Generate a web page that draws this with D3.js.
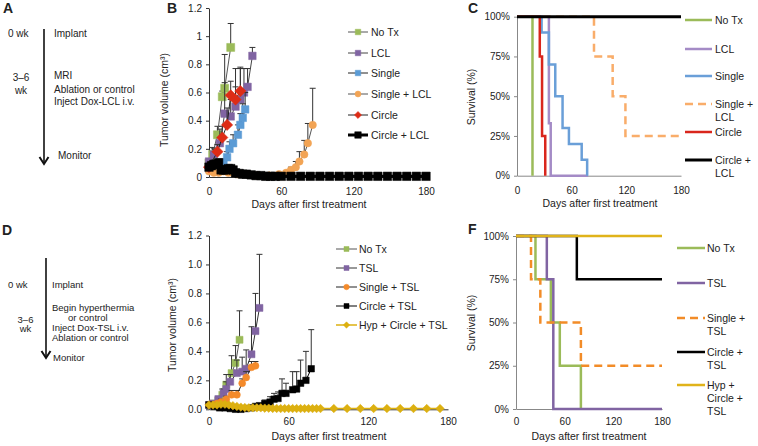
<!DOCTYPE html>
<html><head><meta charset="utf-8">
<script src="https://cdn.jsdelivr.net/npm/d3@7"></script>
<style>
body{margin:0;background:#fff}
text{font-family:'Liberation Sans',Arial,sans-serif;fill:#222}
</style></head><body>
<script>
// ---- data ----
var xTicks = [0, 60, 120, 180];
var volTicks = [0, 0.2, 0.4, 0.6, 0.8, 1.0, 1.2];
var volLabelsB = ["0", "0.2", "0.4", "0.6", "0.8", "1", "1.2"];
var volLabelsE = ["0.0", "0.2", "0.4", "0.6", "0.8", "1.0", "1.2"];
var survTicks = [0, 25, 50, 75, 100];
var survLabels = ["0%", "25%", "50%", "75%", "100%"];

// panel B - tumor volume, LCL
var bNoTxDays = [0, 3, 7, 11, 13, 18];
var bNoTxVol = [0.10, 0.16, 0.30, 0.57, 0.63, 0.92];
var bNoTxErr = [0.02, 0.05, 0.06, 0.04, 0.24, 0.17];
var bLclDays = [0, 4, 9, 13, 18, 22, 26, 29, 32, 36];
var bLclVol = [0.11, 0.16, 0.24, 0.45, 0.43, 0.50, 0.55, 0.60, 0.64, 0.86];
var bLclErr = [0.02, 0.04, 0.10, 0.22, 0.12, 0.14, 0.22, 0.17, 0.13, 0.06];
var bSingleDays = [0, 4, 8, 12, 15, 17, 20, 24, 26, 28, 30];
var bSingleVol = [0.06, 0.07, 0.08, 0.10, 0.14, 0.20, 0.24, 0.30, 0.37, 0.42, 0.48];
var bSingleErr = [0.01, 0.01, 0.02, 0.03, 0.04, 0.05, 0.06, 0.07, 0.08, 0.10, 0.12];
var bSingleLclDays = [0, 4, 8, 12, 16, 20, 24, 30, 40, 50, 58, 64, 68, 72, 75, 79, 82, 86];
var bSingleLclVol = [0.04, 0.03, 0.03, 0.04, 0.03, 0.03, 0.02, 0.02, 0.01, 0.01, 0.02, 0.03, 0.05, 0.07, 0.11, 0.16, 0.24, 0.37];
var bSingleLclErr = [0.01, 0.01, 0.01, 0.01, 0.01, 0.01, 0.01, 0, 0, 0, 0.01, 0.01, 0.02, 0.04, 0.07, 0.10, 0.14, 0.26];
var bCircleDays = [0, 7, 11, 15, 18, 22, 26];
var bCircleVol = [0.07, 0.18, 0.28, 0.37, 0.58, 0.55, 0.61];
var bCircleErr = [0.02, 0.05, 0.08, 0.12, 0.10, 0.22, 0.17];
var bCircleLclDays = [0, 2, 4, 6, 8, 10, 12, 14, 16, 18, 20, 22, 25, 28, 31, 35, 39, 43, 47, 51, 55, 60, 68, 76, 84, 92, 100, 108, 116, 124, 132, 140, 148, 156, 164, 172, 180];
var bCircleLclVol = [0.07, 0.08, 0.09, 0.09, 0.10, 0.05, 0.05, 0.05, 0.06, 0.06, 0.05, 0.03, 0.025, 0.02, 0.02, 0.015, 0.01, 0.01, 0.005, 0.005, 0.005, 0.005, 0.005, 0.005, 0.005, 0.005, 0.005, 0.005, 0.005, 0.005, 0.005, 0.005, 0.005, 0.005, 0.005, 0.005, 0.005];
var bCircleLclErr = [0.02, 0.03, 0.03, 0.03, 0.03, 0.02, 0.02, 0.01, 0.01, 0.01, 0.01, 0.01, 0.01, 0.01, 0, 0, 0, 0, 0, 0, 0, 0, 0, 0, 0, 0, 0, 0, 0, 0, 0, 0, 0, 0, 0, 0, 0];

// panel E - tumor volume, TSL
var eNoTxDays = [0, 3, 7, 10, 13, 17, 20, 23];
var eNoTxVol = [0.03, 0.04, 0.06, 0.10, 0.17, 0.25, 0.32, 0.48];
var eNoTxErr = [0.01, 0.01, 0.02, 0.04, 0.07, 0.12, 0.12, 0.20];
var eTslDays = [0, 3, 7, 11, 13, 16, 21, 25, 28, 32, 35, 38];
var eTslVol = [0.03, 0.04, 0.07, 0.11, 0.14, 0.19, 0.25, 0.26, 0.28, 0.38, 0.54, 0.70];
var eTslErr = [0.01, 0.01, 0.02, 0.03, 0.05, 0.05, 0.09, 0.10, 0.13, 0.19, 0.26, 0.37];
var eSingleDays = [0, 3, 6, 9, 13, 17, 21, 25, 28, 32, 35];
var eSingleVol = [0.03, 0.03, 0.04, 0.05, 0.07, 0.10, 0.10, 0.18, 0.22, 0.29, 0.30];
var eSingleErr = [0.01, 0.01, 0.01, 0.02, 0.02, 0.03, 0.03, 0.03, 0.04, 0.04, 0.03];
var eCircleDays = [0, 4, 8, 12, 16, 20, 24, 28, 32, 35, 38, 42, 46, 49, 52, 55, 58, 63, 66, 69, 73, 77];
var eCircleVol = [0.03, 0.02, 0.01, 0.01, 0.005, 0, 0, 0.005, 0.01, 0.02, 0.025, 0.04, 0.05, 0.07, 0.075, 0.11, 0.11, 0.135, 0.14, 0.18, 0.20, 0.28];
var eCircleErr = [0, 0, 0, 0, 0, 0, 0, 0, 0, 0.01, 0.015, 0.024, 0.037, 0.04, 0.045, 0.10, 0.07, 0.125, 0.12, 0.16, 0.20, 0.27];
var eHypDays = [0, 3, 6, 9, 12, 15, 18, 21, 24, 27, 30, 33, 36, 39, 42, 45, 48, 51, 54, 57, 60, 63, 66, 69, 72, 75, 78, 81, 84, 94, 104, 114, 124, 134, 144, 154, 164, 174];
var eHypVol = [0.03, 0.03, 0.03, 0.035, 0.035, 0.03, 0.025, 0.02, 0.015, 0.012, 0.01, 0.01, 0.01, 0.01, 0.008, 0.008, 0.006, 0.006, 0.005, 0.005, 0.005, 0.005, 0.005, 0.005, 0.005, 0.005, 0.005, 0.005, 0.005, 0.005, 0.005, 0.005, 0.005, 0.005, 0.005, 0.005, 0.005, 0.005];

// panel C - survival (day, %) step points
var cNoTxT = [0, 17], cNoTxS = [100, 0];
var cLclT = [0, 35, 37, 78], cLclS = [100, 33, 0, 0];
var cSingleT = [0, 27, 35, 42, 50, 57, 71, 77], cSingleS = [100, 90, 70, 50, 30, 20, 10, 0];
var cSingleLclT = [0, 84.5, 105, 119, 180], cSingleLclS = [100, 75, 50, 25, 25];
var cCircleT = [0, 25, 27.5, 31], cCircleS = [100, 75, 25, 0];
var cCircleLclT = [0, 180], cCircleLclS = [100, 100];

// panel F - survival
var fNoTxT = [0, 24, 43, 54, 80], fNoTxS = [100, 75, 50, 25, 0];
var fTslT = [0, 38, 46, 180], fTslS = [100, 75, 0, 0];
var fSingleT = [0, 18.5, 30, 80, 180], fSingleS = [100, 75, 50, 25, 25];
var fCircleT = [0, 75, 180], fCircleS = [100, 75, 75];
var fHypT = [0, 180], fHypS = [100, 100];

// ---- drawing ----
var svg = d3.select("body").append("svg")
    .attr("width", 758).attr("height", 446)
    .style("background-color", "white");

function txt(x, y, s, size, anchor, weight) {
    return svg.append("text").attr("x", x).attr("y", y).text(s)
        .style("font-size", (size || 10) + "px")
        .attr("text-anchor", anchor || "start")
        .style("font-weight", weight || "normal");
}

function marker(g, type, cx, cy, size, fill) {
    if (type == "diamond") {
        g.append("path").attr("d", d3.symbol().type(d3.symbolSquare).size(size * size)())
            .attr("transform", "translate(" + cx + "," + cy + ") rotate(45)")
            .attr("fill", fill).attr("stroke", fill).attr("stroke-width", 0.5);
    } else {
        var t = type == "circle" ? d3.symbolCircle : d3.symbolSquare;
        var area = type == "circle" ? Math.PI * size * size / 4 : size * size;
        g.append("path").attr("d", d3.symbol().type(t).size(area)())
            .attr("transform", "translate(" + cx + "," + cy + ")")
            .attr("fill", fill).attr("stroke", fill).attr("stroke-width", 0.5);
    }
}

function styleAxis(ax, domainColor) {
    ax.selectAll("text").style("font-size", "10px").style("fill", "#222")
        .style("font-family", "'Liberation Sans',Arial,sans-serif");
    ax.select(".domain").attr("stroke", domainColor);
    ax.selectAll(".tick line").attr("stroke", domainColor);
}

function growthPanel(xr, yr, labels, pad, series) {
    var x = d3.scaleLinear().domain([0, 180]).range(xr);
    var y = d3.scaleLinear().domain([0, 1.2]).range(yr);
    var ay = svg.append("g").attr("transform", "translate(" + xr[0] + ",0)")
        .call(d3.axisLeft(y).tickValues(volTicks).tickFormat(function(d, i){ return labels[i]; })
            .tickSize(3).tickSizeOuter(0).tickPadding(4));
    styleAxis(ay, "#333");
    var ax = svg.append("g").attr("transform", "translate(0," + yr[0] + ")")
        .call(d3.axisBottom(x).tickValues(xTicks).tickSize(0).tickPadding(pad));
    styleAxis(ax, "#333");

    series.forEach(function(s) {
        var g = svg.append("g");
        var idx = d3.range(s.days.length);
        idx.forEach(function(i) {
            if (s.err && s.err[i] > 0) {
                var xx = x(s.days[i]), y0 = y(s.vol[i]), y1 = y(s.vol[i] + s.err[i]);
                g.append("line").attr("x1", xx).attr("x2", xx).attr("y1", y0).attr("y2", y1)
                    .attr("stroke", "#333").attr("stroke-width", 1);
                g.append("line").attr("x1", xx - 3).attr("x2", xx + 3).attr("y1", y1).attr("y2", y1)
                    .attr("stroke", "#333").attr("stroke-width", 1);
            }
        });
        g.append("path").datum(idx)
            .attr("d", d3.line().x(function(i){ return x(s.days[i]); }).y(function(i){ return y(s.vol[i]); }))
            .attr("fill", "none").attr("stroke", s.line).attr("stroke-width", s.lw);
        idx.forEach(function(i) {
            marker(g, s.shape, x(s.days[i]), y(s.vol[i]), s.size, s.color);
        });
    });
}

function growthLegend(x0, x1, tx, rows, series, names) {
    series.forEach(function(s, k) {
        var g = svg.append("g");
        g.append("line").attr("x1", x0).attr("x2", x1).attr("y1", rows[k]).attr("y2", rows[k])
            .attr("stroke", s.line).attr("stroke-width", s.lw);
        marker(g, s.shape, (x0 + x1) / 2, rows[k], s.legSize, s.color);
        txt(tx, rows[k] + 3.5, names[k], 10.5);
    });
}

function survivalPanel(xr, yr, pad, series) {
    var x = d3.scaleLinear().domain([0, 180]).range(xr);
    var y = d3.scaleLinear().domain([0, 100]).range(yr);
    var ay = svg.append("g").attr("transform", "translate(" + xr[0] + ",0)")
        .call(d3.axisLeft(y).tickValues(survTicks).tickFormat(function(d, i){ return survLabels[i]; })
            .tickSize(3).tickSizeOuter(0).tickPadding(4));
    styleAxis(ay, "#888");
    var ax = svg.append("g").attr("transform", "translate(0," + yr[0] + ")")
        .call(d3.axisBottom(x).tickValues(xTicks).tickSize(0).tickPadding(pad));
    styleAxis(ax, "#888");
    series.forEach(function(s) {
        var idx = d3.range(s.t.length);
        svg.append("path").datum(idx)
            .attr("d", d3.line().curve(d3.curveStepAfter)
                .x(function(i){ return x(s.t[i]); }).y(function(i){ return y(s.s[i]); }))
            .attr("fill", "none").attr("stroke", s.color).attr("stroke-width", s.lw || 2.5)
            .attr("stroke-dasharray", s.dash ? "8,5" : null);
    });
}

function survivalLegend(x0, x1, tx, rows, series, names) {
    series.forEach(function(s, k) {
        svg.append("line").attr("x1", x0).attr("x2", x1).attr("y1", rows[k]).attr("y2", rows[k])
            .attr("stroke", s.color).attr("stroke-width", s.lw || 2.5)
            .attr("stroke-dasharray", s.dash ? "8,5" : null);
        names[k].forEach(function(line, j) {
            txt(tx, rows[k] + 3.5 + j * 13.3, line, 10.5);
        });
    });
}

// ---- panel A / D timelines ----
function arrow(x, y0, y1) {
    svg.append("line").attr("x1", x).attr("x2", x).attr("y1", y0).attr("y2", y1)
        .attr("stroke", "#111").attr("stroke-width", 1.6);
    svg.append("path").attr("d", "M" + (x - 4.5) + "," + (y1 - 7) + "L" + x + "," + y1 + "L" + (x + 4.5) + "," + (y1 - 7))
        .attr("fill", "none").attr("stroke", "#111").attr("stroke-width", 2);
}

txt(3, 13, "A", 14, "start", "bold");
arrow(44, 29, 164);
txt(8, 37, "0 wk", 10);
txt(54, 37, "Implant", 10);
txt(21, 81, "3\u20136", 10, "middle");
txt(21, 94, "wk", 10, "middle");
txt(54, 79, "MRI", 10);
txt(54, 93, "Ablation or control", 10);
txt(54, 105, "Inject Dox-LCL i.v.", 10);
txt(58, 159, "Monitor", 10);

txt(2, 235, "D", 14, "start", "bold");
arrow(46, 258, 358);
txt(8, 287.5, "0 wk", 9.5);
txt(52, 287.5, "Implant", 9.5);
txt(25.5, 322.5, "3\u20136", 9.5, "middle");
txt(25.5, 332, "wk", 9.5, "middle");
txt(52, 311, "Begin hyperthermia", 9.5);
txt(68, 321, "or control", 9.5);
txt(52, 331, "Inject Dox-TSL i.v.", 9.5);
txt(52, 340.5, "Ablation or control", 9.5);
txt(53, 361, "Monitor", 9.5);

// ---- panel B ----
var seriesB = [
    {days: bNoTxDays, vol: bNoTxVol, err: bNoTxErr, color: "#9bbb59", line: "#555", lw: 1, shape: "square", size: 8, legSize: 5.5},
    {days: bLclDays, vol: bLclVol, err: bLclErr, color: "#8064a2", line: "#444", lw: 1, shape: "square", size: 7.5, legSize: 5.5},
    {days: bSingleDays, vol: bSingleVol, err: bSingleErr, color: "#5b9bd5", line: "#222", lw: 1, shape: "square", size: 7.5, legSize: 5.5},
    {days: bSingleLclDays, vol: bSingleLclVol, err: bSingleLclErr, color: "#f2a455", line: "#555", lw: 1, shape: "circle", size: 7.5, legSize: 6},
    {days: bCircleDays, vol: bCircleVol, err: bCircleErr, color: "#dd2c16", line: "#222", lw: 1, shape: "diamond", size: 8, legSize: 5},
    {days: bCircleLclDays, vol: bCircleLclVol, err: bCircleLclErr, color: "#000", line: "#000", lw: 3, shape: "square", size: 8.5, legSize: 6.5}
];
var namesB = ["No Tx", "LCL", "Single", "Single + LCL", "Circle", "Circle + LCL"];
txt(167, 13, "B", 14, "start", "bold");
growthPanel([209, 426], [177, 8], volLabelsB, 11, seriesB);
growthLegend(348, 368, 371, [32, 53, 73, 94, 115, 135], seriesB, namesB);
txt(309, 208, "Days after first treatment", 10.5, "middle");
txt(0, 0, "Tumor volume (cm\u00b3)", 10.5, "middle").attr("transform", "translate(168,100) rotate(-90)");

// ---- panel C ----
var seriesC = [
    {t: cNoTxT, s: cNoTxS, color: "#9bbb59"},
    {t: cLclT, s: cLclS, color: "#a48bc6"},
    {t: cSingleT, s: cSingleS, color: "#6a9fd8"},
    {t: cSingleLclT, s: cSingleLclS, color: "#f9ad6a", dash: true},
    {t: cCircleT, s: cCircleS, color: "#d9261c"},
    {t: cCircleLclT, s: cCircleLclS, color: "#000", lw: 3}
];
var namesC = [["No Tx"], ["LCL"], ["Single"], ["Single +", "LCL"], ["Circle"], ["Circle +", "LCL"]];
txt(468, 13, "C", 14, "start", "bold");
survivalPanel([517, 681], [175.7, 16.7], 11, seriesC);
survivalLegend(685, 712, 715, [20, 49, 76, 104, 132, 160], seriesC, namesC);
txt(600, 207, "Days after first treatment", 10.5, "middle");
txt(0, 0, "Survival (%)", 10.5, "middle").attr("transform", "translate(475,97) rotate(-90)");

// ---- panel E ----
var seriesE = [
    {days: eNoTxDays, vol: eNoTxVol, err: eNoTxErr, color: "#9bbb59", line: "#555", lw: 1, shape: "square", size: 7, legSize: 5},
    {days: eTslDays, vol: eTslVol, err: eTslErr, color: "#8064a2", line: "#333", lw: 1, shape: "square", size: 7, legSize: 5},
    {days: eSingleDays, vol: eSingleVol, err: eSingleErr, color: "#f48a2a", line: "#222", lw: 1, shape: "circle", size: 7, legSize: 5.5},
    {days: eCircleDays, vol: eCircleVol, err: eCircleErr, color: "#000", line: "#000", lw: 1, shape: "square", size: 6.5, legSize: 5},
    {days: eHypDays, vol: eHypVol, err: null, color: "#dcb010", line: "#dcb010", lw: 1.5, shape: "diamond", size: 6, legSize: 4.5}
];
var namesE = ["No Tx", "TSL", "Single + TSL", "Circle + TSL", "Hyp + Circle + TSL"];
txt(170, 235, "E", 14, "start", "bold");
growthPanel([209, 448], [409.3, 235.5], volLabelsE, 9, seriesE);
growthLegend(336, 357, 359, [249, 268, 287, 306, 325], seriesE, namesE);
txt(329, 440, "Days after first treatment", 10.5, "middle");
txt(0, 0, "Tumor volume (cm\u00b3)", 10.5, "middle").attr("transform", "translate(176,325) rotate(-90)");

// ---- panel F ----
var seriesF = [
    {t: fNoTxT, s: fNoTxS, color: "#9bbb59"},
    {t: fTslT, s: fTslS, color: "#8064a2"},
    {t: fSingleT, s: fSingleS, color: "#f28c28", dash: true},
    {t: fCircleT, s: fCircleS, color: "#000"},
    {t: fHypT, s: fHypS, color: "#e0b31a"}
];
var namesF = [["No Tx"], ["TSL"], ["Single +", "TSL"], ["Circle +", "TSL"], ["Hyp +", "Circle +", "TSL"]];
txt(468, 234, "F", 14, "start", "bold");
survivalPanel([516, 662], [409, 236], 9, seriesF);
survivalLegend(677, 705, 707, [248, 283, 318, 352, 385], seriesF, namesF);
txt(589, 440, "Days after first treatment", 10.5, "middle");
txt(0, 0, "Survival (%)", 10.5, "middle").attr("transform", "translate(475,323) rotate(-90)");
</script>
</body></html>
